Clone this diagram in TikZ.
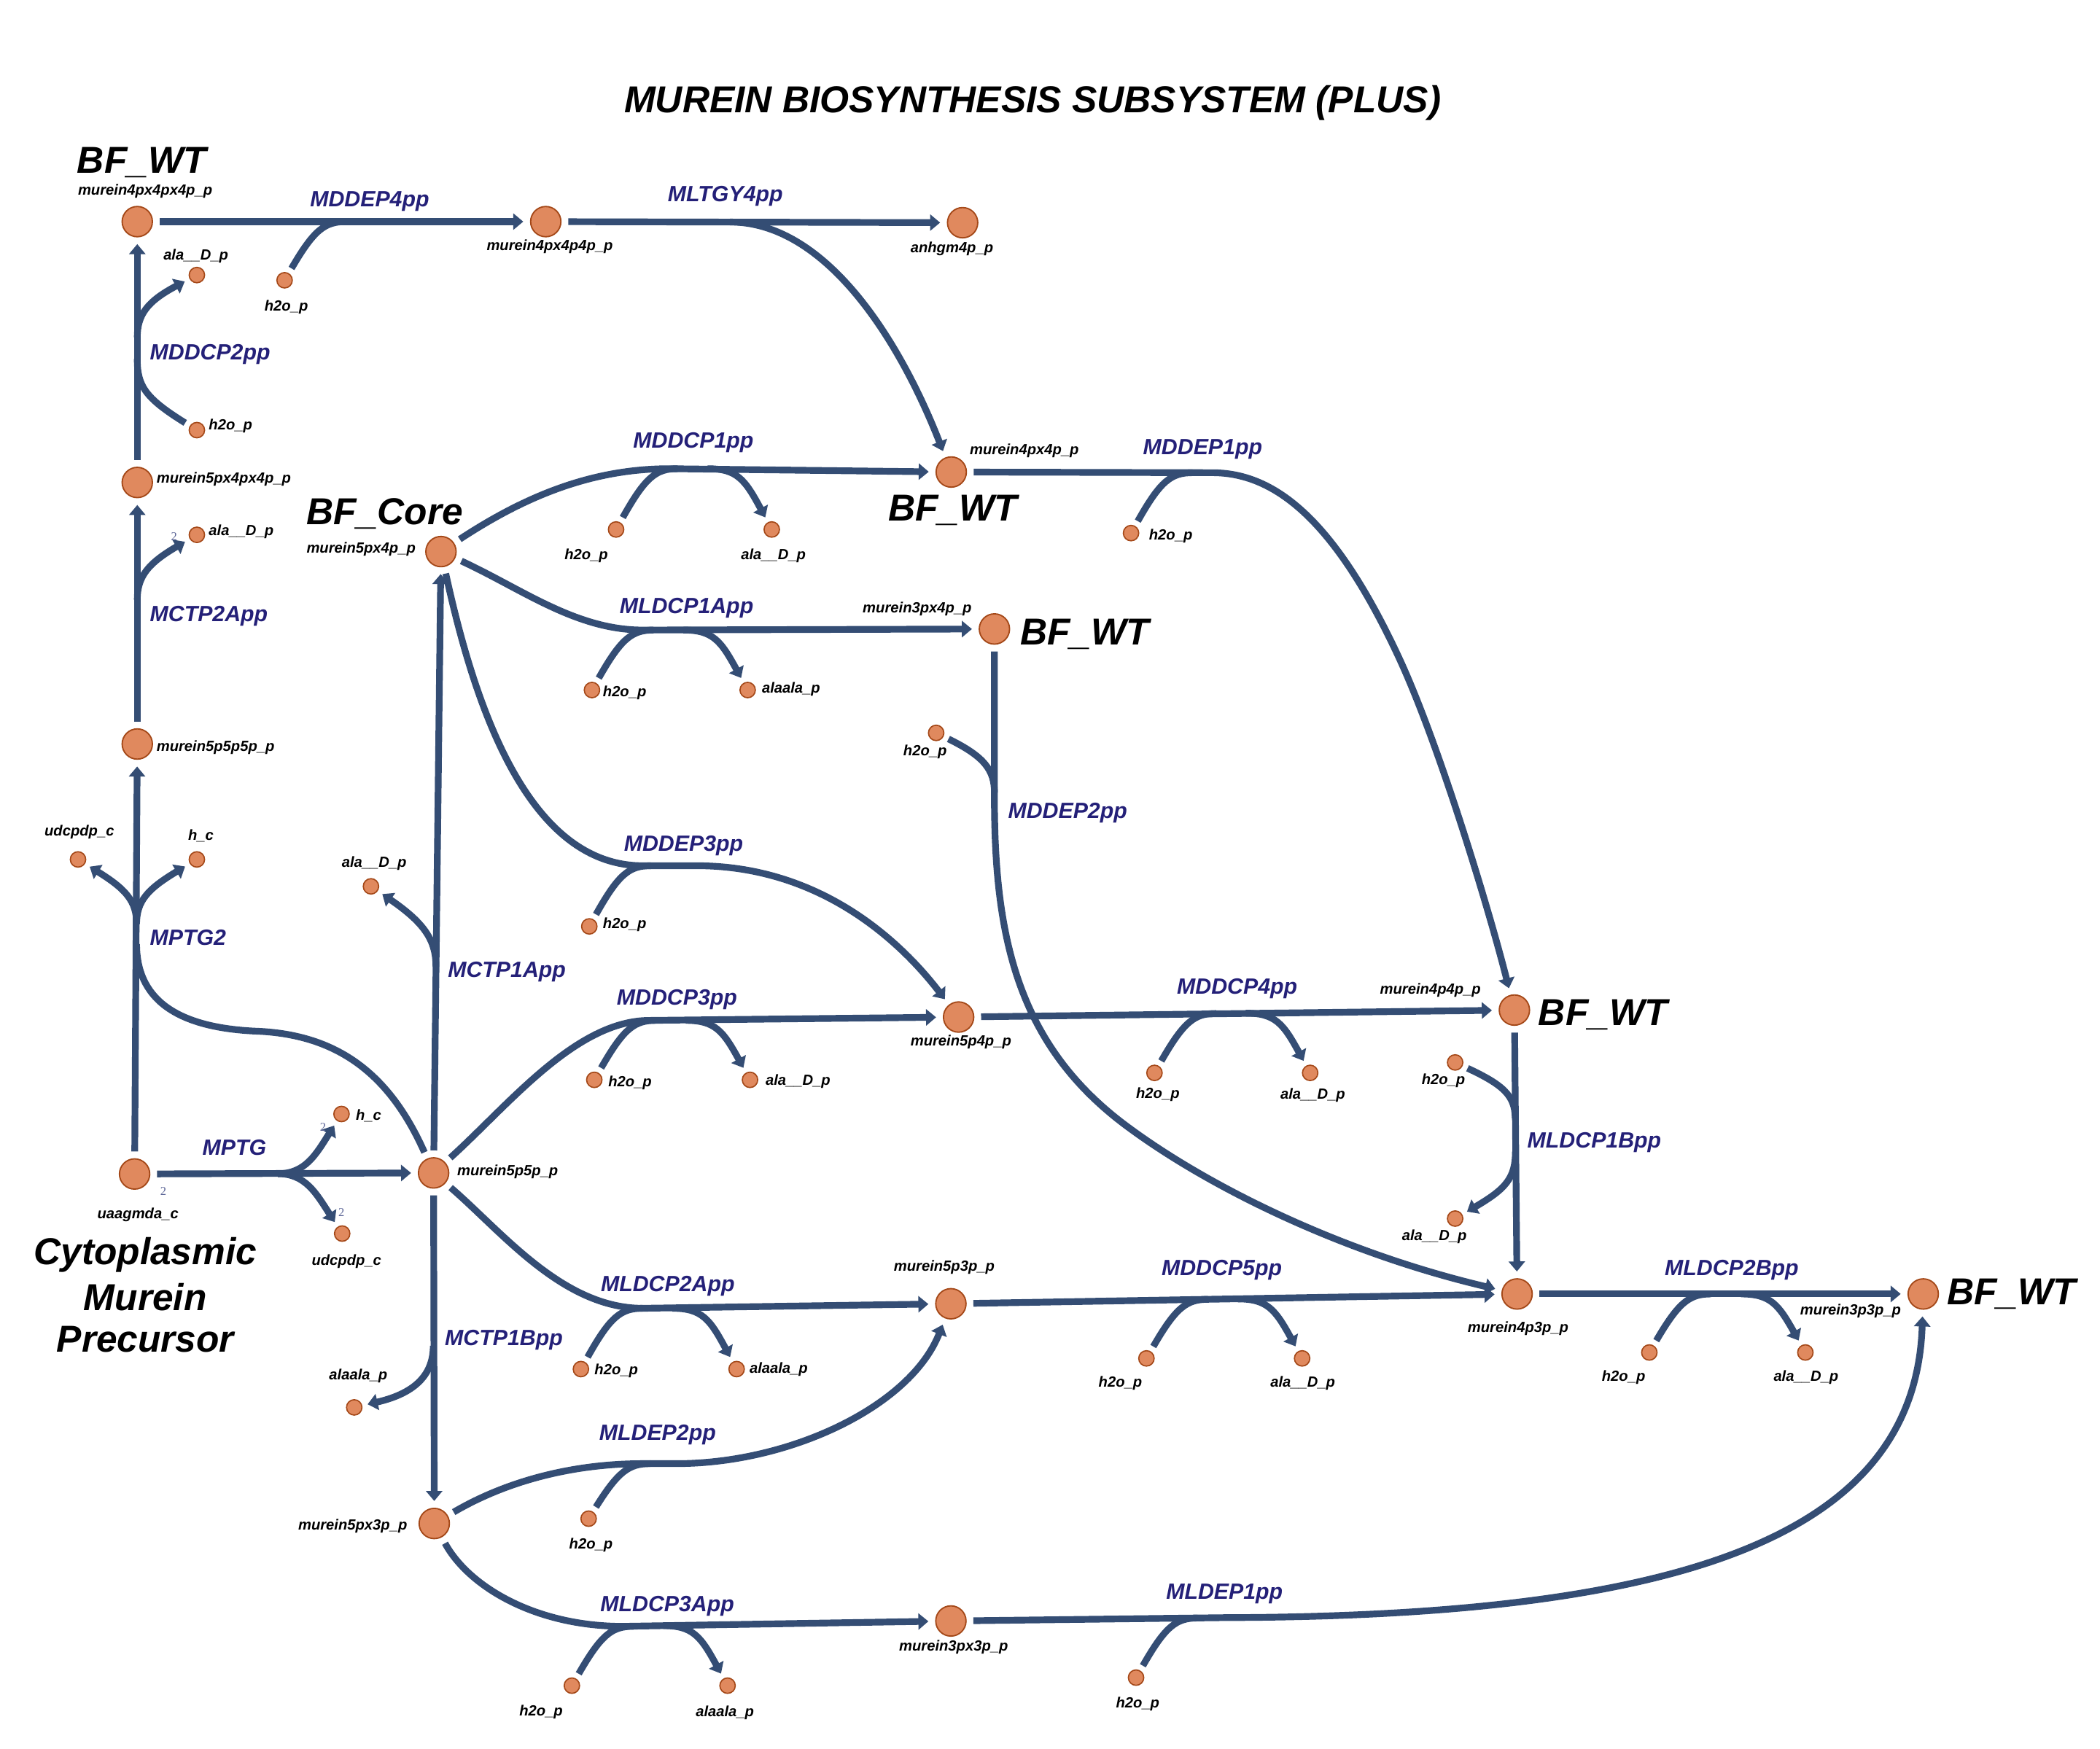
\documentclass[tikz,border=0pt]{standalone}
\usepackage{fontspec}
\setmainfont{Liberation Sans}
\newfontfamily\stfont{Liberation Serif}
\usetikzlibrary{arrows.meta}
\definecolor{edgec}{RGB}{52,77,116}
\definecolor{metfill}{RGB}{224,137,94}
\definecolor{metdraw}{RGB}{164,72,24}
\definecolor{rxc}{RGB}{36,32,120}
\definecolor{stc}{RGB}{90,100,150}
\begin{document}
\begin{tikzpicture}[x=1pt,y=-1pt,
 met/.style={circle,fill=metfill,draw=metdraw,line width=1pt,minimum size=22.6pt,inner sep=0pt,outer sep=5.5pt},
 smet/.style={circle,fill=metfill,draw=metdraw,line width=0.9pt,minimum size=11.5pt,inner sep=0pt,outer sep=4.5pt},
 rx/.style={draw=edgec,line width=5pt},
 arr/.style={-{Triangle[length=7.5pt,width=12pt]}},
 mlab/.style={inner sep=0pt,font=\bfseries\itshape\fontsize{11}{13}\selectfont},
 rlab/.style={inner sep=0pt,text=rxc,font=\bfseries\itshape\fontsize{16.5}{19}\selectfont},
 bflab/.style={inner sep=0pt,font=\bfseries\itshape\fontsize{28}{32}\selectfont},
 stoi/.style={inner sep=0pt,text=stc,font=\stfont\fontsize{9}{10}\selectfont}]
\useasboundingbox (0,0) rectangle (1568,1306);
\fill[white] (0,0) rectangle (1568,1306);

% ---------- metabolites (large)
\node[met] (A) at (102.5,165.5) {};
\node[met] (B) at (407.5,165.5) {};
\node[met] (C) at (718.75,166.3) {};
\node[met] (D) at (102.5,360.3) {};
\node[met] (E) at (329.25,411.9) {};
\node[met] (F) at (710.25,352.5) {};
\node[met] (G) at (742.5,469.7) {};
\node[met] (H) at (102.5,555.6) {};
\node[met] (I) at (715.75,759.5) {};
\node[met] (K) at (1130.75,754.3) {};
\node[met] (U) at (100.5,876.7) {};
\node[met] (M) at (323.75,875.9) {};
\node[met] (N) at (710,973.6) {};
\node[met] (O) at (1132.75,966.3) {};
\node[met] (P) at (1436,966.3) {};
\node[met] (Q) at (324.25,1137.7) {};
\node[met] (R) at (710,1210.5) {};

% ---------- metabolites (small)
\node[smet] (w1) at (212.5,209.3) {};
\node[smet] (w3) at (147,321.2) {};
\node[smet] (a3) at (147,205.4) {};
\node[smet] (a4) at (147,399.4) {};
\node[smet] (w5) at (460,395.4) {};
\node[smet] (a5) at (576.25,395.4) {};
\node[smet] (w6) at (442,515.3) {};
\node[smet] (a6) at (558.25,515.3) {};
\node[smet] (w7) at (440,691.8) {};
\node[smet] (w8) at (844.5,398.1) {};
\node[smet] (w9) at (699,547.3) {};
\node[smet] (u10) at (58.25,641.8) {};
\node[smet] (h10) at (147,641.8) {};
\node[smet] (a11) at (277,661.9) {};
\node[smet] (h12) at (255,831.9) {};
\node[smet] (u12) at (255.5,921.2) {};
\node[smet] (w13) at (443.75,806.4) {};
\node[smet] (a13) at (560,806.4) {};
\node[smet] (w14) at (862,801.2) {};
\node[smet] (a14) at (978.25,801.2) {};
\node[smet] (w15) at (1086.5,793.4) {};
\node[smet] (a15) at (1086.5,910) {};
\node[smet] (w16) at (433.75,1022.4) {};
\node[smet] (a16) at (550,1022.4) {};
\node[smet] (w17) at (439.5,1134.1) {};
\node[smet] (w18) at (427,1258.8) {};
\node[smet] (a18) at (543.25,1258.8) {};
\node[smet] (w19) at (856,1014.4) {};
\node[smet] (a19) at (972.25,1014.4) {};
\node[smet] (w20) at (1231.5,1010) {};
\node[smet] (a20) at (1348,1010) {};
\node[smet] (w21) at (848.25,1252.8) {};
\node[smet] (a22) at (264.5,1051) {};

% ---------- junction coordinates
\coordinate (j1) at (258.5,165.5);
\coordinate (j2) at (545,165.8);
\coordinate (j3) at (102.5,268);
\coordinate (j3b) at (102.5,252);
\coordinate (j4) at (102.5,448);
\coordinate (k5) at (500,350);
\coordinate (j5) at (506,350);
\coordinate (j5b) at (528.25,350);
\coordinate (k6) at (480,470.5);
\coordinate (j6) at (488,470.5);
\coordinate (j6b) at (510.25,470.5);
\coordinate (k7a) at (480,646.5);
\coordinate (k7b) at (520,646.5);
\coordinate (j7) at (486,646.5);
\coordinate (k8a) at (905,353);
\coordinate (k8b) at (1044,490);
\coordinate (j8) at (890.5,353);
\coordinate (k9a) at (742.5,600);
\coordinate (k9b) at (840,840);
\coordinate (j9) at (742.5,592);
\coordinate (k10) at (190,770);
\coordinate (j10) at (102,705);
\coordinate (j10b) at (102,690);
\coordinate (j11) at (325.5,722);
\coordinate (j12) at (207.5,876.5);
\coordinate (k13) at (485,762);
\coordinate (j13) at (489.75,762);
\coordinate (j13b) at (512,762);
\coordinate (j14) at (908,756.8);
\coordinate (j14b) at (930.25,756.6);
\coordinate (j15) at (1131.3,835);
\coordinate (j15b) at (1131.5,860);
\coordinate (k16) at (480,977);
\coordinate (j16) at (479.75,977);
\coordinate (j16b) at (502,977);
\coordinate (k17a) at (480,1093);
\coordinate (k17b) at (505,1093);
\coordinate (j17) at (485.5,1093);
\coordinate (k18) at (465,1214.5);
\coordinate (j18) at (473,1214.5);
\coordinate (j18b) at (495.25,1214);
\coordinate (j19) at (902,970.3);
\coordinate (j19b) at (924.25,970);
\coordinate (j20) at (1277.5,966.3);
\coordinate (j20b) at (1300,966.3);
\coordinate (k21) at (915,1208);
\coordinate (j21) at (894.25,1208.3);
\coordinate (j22) at (323.5,1005);

% ---------- reactions
% MDDEP4pp
\draw[rx,arr] (A) -- (B);
\draw[rx] (w1) .. controls (234.5,171.5) and (242.5,165.5) .. (j1);
% MLTGY4pp
\draw[rx,arr] (B) -- (C);
\draw[rx,arr] (j2) .. controls (615,165.8) and (670,250) .. (F);
% MDDCP2pp
\draw[rx,arr] (D) -- (A);
\draw[rx] (w3) .. controls (108,297) and (102.5,288) .. (j3);
\draw[rx,arr] (j3b) .. controls (102.5,235) and (110,225) .. (a3);
% MCTP2App
\draw[rx,arr] (H) -- (D);
\draw[rx,arr] (j4) .. controls (102.5,431) and (110,421) .. (a4);
% MDDCP1pp
\draw[rx,arr] (E) .. controls (390,372) and (440,350) .. (k5) -- (F);
\draw[rx] (w5) .. controls (482,356) and (490,350) .. (j5);
\draw[rx,arr] (j5b) .. controls (550.25,350) and (556.25,358) .. (a5);
% MLDCP1App
\draw[rx,arr] (E) .. controls (390,440) and (430,470.5) .. (k6) -- (G);
\draw[rx] (w6) .. controls (464,476.5) and (472,470.5) .. (j6);
\draw[rx,arr] (j6b) .. controls (532.25,470.5) and (538.25,478.5) .. (a6);
% MDDEP3pp
\draw[rx,arr] (E) .. controls (355,530) and (395,646.5) .. (k7a) -- (k7b) .. controls (610,646.5) and (670,700) .. (I);
\draw[rx] (w7) .. controls (462,652.5) and (470,646.5) .. (j7);
% MDDEP1pp
\draw[rx,arr] (F) -- (k8a) .. controls (950,353) and (995,385) .. (k8b) .. controls (1074,554) and (1112,680) .. (K);
\draw[rx] (w8) .. controls (866.5,359) and (874.5,353) .. (j8);
% MDDEP2pp
\draw[rx,arr] (G) -- (k9a) .. controls (743,700) and (760,780) .. (k9b) .. controls (900,885) and (1000,935) .. (O);
\draw[rx] (w9) .. controls (735,565) and (742.5,575) .. (j9);
% MPTG2
\draw[rx,arr] (U) -- (H);
\draw[rx] (M) .. controls (290,800) and (250,772) .. (k10) .. controls (130,767) and (102,745) .. (j10);
\draw[rx,arr] (j10b) .. controls (102,673) and (94,664) .. (u10);
\draw[rx,arr] (j10b) .. controls (102,673) and (110,664) .. (h10);
% MCTP1App
\draw[rx,arr] (M) -- (E);
\draw[rx,arr] (j11) .. controls (325.5,703) and (318,690) .. (a11);
% MPTG
\draw[rx,arr] (U) -- (M);
\draw[rx,arr] (j12) .. controls (228,876.5) and (236,862) .. (h12);
\draw[rx,arr] (j12) .. controls (228,876.5) and (236,891) .. (u12);
% MDDCP3pp
\draw[rx,arr] (M) .. controls (380,825) and (430,762) .. (k13) -- (I);
\draw[rx] (w13) .. controls (465.75,768) and (473.75,762) .. (j13);
\draw[rx,arr] (j13b) .. controls (534,762) and (540,770) .. (a13);
% MDDCP4pp
\draw[rx,arr] (I) -- (K);
\draw[rx] (w14) .. controls (884,762.8) and (892,756.8) .. (j14);
\draw[rx,arr] (j14b) .. controls (952.25,756.6) and (958.25,764.6) .. (a14);
% MLDCP1Bpp
\draw[rx,arr] (K) -- (O);
\draw[rx] (w15) .. controls (1122,810) and (1131.3,818) .. (j15);
\draw[rx,arr] (j15b) .. controls (1131.5,880) and (1124,888) .. (a15);
% MLDCP2App
\draw[rx,arr] (M) .. controls (375,920) and (420,977) .. (k16) -- (N);
\draw[rx] (w16) .. controls (455.75,983) and (463.75,977) .. (j16);
\draw[rx,arr] (j16b) .. controls (524,977) and (530,985) .. (a16);
% MLDEP2pp
\draw[rx,arr] (Q) .. controls (380,1105) and (430,1093) .. (k17a) -- (k17b) .. controls (590,1093) and (680,1050) .. (N);
\draw[rx] (w17) .. controls (461.5,1099) and (469.5,1093) .. (j17);
% MLDCP3App
\draw[rx,arr] (Q) .. controls (350,1185) and (400,1214.5) .. (k18) -- (R);
\draw[rx] (w18) .. controls (449,1220.5) and (457,1214.5) .. (j18);
\draw[rx,arr] (j18b) .. controls (517.25,1214) and (523.25,1222) .. (a18);
% MDDCP5pp
\draw[rx,arr] (N) -- (O);
\draw[rx] (w19) .. controls (878,976.3) and (886,970.3) .. (j19);
\draw[rx,arr] (j19b) .. controls (946.25,970) and (952.25,978) .. (a19);
% MLDCP2Bpp
\draw[rx,arr] (O) -- (P);
\draw[rx] (w20) .. controls (1253.5,972.3) and (1261.5,966.3) .. (j20);
\draw[rx,arr] (j20b) .. controls (1322,966.3) and (1328,974.3) .. (a20);
% MLDEP1pp
\draw[rx,arr] (R) -- (k21) .. controls (1250,1207) and (1430,1150) .. (P);
\draw[rx] (w21) .. controls (870.25,1214.3) and (878.25,1208.3) .. (j21);
% MCTP1Bpp
\draw[rx,arr] (M) -- (Q);
\draw[rx,arr] (j22) .. controls (323.5,1025) and (312,1040) .. (a22);

% ---------- metabolite labels
\node[mlab,anchor=base] (lA) at (108.4,145.5) {murein4px4px4p\_p};
\node[mlab,anchor=base] (la3) at (146.25,194.2) {ala\_\_D\_p};
\node[mlab,anchor=base] (lw1) at (213.75,232.2) {h2o\_p};
\node[mlab,anchor=base west] (lw3) at (155.75,321.2) {h2o\_p};
\node[mlab,anchor=base west] (lD) at (116.75,360.8) {murein5px4px4p\_p};
\node[mlab,anchor=base west] (la4) at (155.75,399.9) {ala\_\_D\_p};
\node[mlab,anchor=base west] (lE) at (228.75,412.9) {murein5px4p\_p};
\node[mlab,anchor=base] (lB) at (410.5,187.1) {murein4px4p4p\_p};
\node[mlab,anchor=base] (lC) at (710.75,188.4) {anhgm4p\_p};
\node[mlab,anchor=base west] (lF) at (724,339.5) {murein4px4p\_p};
\node[mlab,anchor=base] (lw5) at (437.75,417.6) {h2o\_p};
\node[mlab,anchor=base] (la5) at (577.5,417.6) {ala\_\_D\_p};
\node[mlab,anchor=base west] (lG) at (644,457.4) {murein3px4p\_p};
\node[mlab,anchor=base west] (lw8) at (857.75,403.3) {h2o\_p};
\node[mlab,anchor=base west] (lw6) at (450,520) {h2o\_p};
\node[mlab,anchor=base west] (la6) at (568.75,517.3) {alaala\_p};
\node[mlab,anchor=base] (lw9) at (690.75,564.2) {h2o\_p};
\node[mlab,anchor=base west] (lH) at (116.75,560.8) {murein5p5p5p\_p};
\node[mlab,anchor=base] (lu10) at (59.25,624.1) {udcpdp\_c};
\node[mlab,anchor=base] (lh10) at (150,627.2) {h\_c};
\node[mlab,anchor=base] (la11) at (279.4,647.5) {ala\_\_D\_p};
\node[mlab,anchor=base west] (lw7) at (450,693.1) {h2o\_p};
\node[mlab,anchor=base] (lI) at (717.5,781.1) {murein5p4p\_p};
\node[mlab,anchor=base west] (lw13) at (454,811.6) {h2o\_p};
\node[mlab,anchor=base west] (la13) at (571.5,810.3) {ala\_\_D\_p};
\node[mlab,anchor=base west] (lK) at (1030.25,742.6) {murein4p4p\_p};
\node[mlab,anchor=base] (lw14) at (864.5,820.2) {h2o\_p};
\node[mlab,anchor=base] (la14) at (980.25,820.7) {ala\_\_D\_p};
\node[mlab,anchor=base] (lw15) at (1077.75,809.8) {h2o\_p};
\node[mlab,anchor=base] (la15) at (1071,926.3) {ala\_\_D\_p};
\node[mlab,anchor=base] (lU) at (103,910) {uaagmda\_c};
\node[mlab,anchor=base west] (lh12) at (265.5,836.3) {h\_c};
\node[mlab,anchor=base] (lu12) at (258.75,945) {udcpdp\_c};
\node[mlab,anchor=base west] (lM) at (341.25,878) {murein5p5p\_p};
\node[mlab,anchor=base] (la22) at (267.5,1030.2) {alaala\_p};
\node[mlab,anchor=base west] (lQ) at (222.5,1142.4) {murein5px3p\_p};
\node[mlab,anchor=base] (lN) at (705,949) {murein5p3p\_p};
\node[mlab,anchor=base west] (lw16) at (443.75,1026.3) {h2o\_p};
\node[mlab,anchor=base west] (la16) at (559.5,1025.6) {alaala\_p};
\node[mlab,anchor=base] (lw17) at (441.25,1156.7) {h2o\_p};
\node[mlab,anchor=base] (lR) at (712,1232.8) {murein3px3p\_p};
\node[mlab,anchor=base] (lw18) at (404,1281.4) {h2o\_p};
\node[mlab,anchor=base] (la18) at (541.25,1281.9) {alaala\_p};
\node[mlab,anchor=base] (lO) at (1133.5,994.9) {murein4p3p\_p};
\node[mlab,anchor=base] (lw19) at (836.5,1036) {h2o\_p};
\node[mlab,anchor=base] (la19) at (972.75,1036) {ala\_\_D\_p};
\node[mlab,anchor=base] (lw21) at (849.5,1275.4) {h2o\_p};
\node[mlab,anchor=base west] (lP) at (1344,981.9) {murein3p3p\_p};
\node[mlab,anchor=base] (lw20) at (1212.25,1031.3) {h2o\_p};
\node[mlab,anchor=base] (la20) at (1348.5,1031.3) {ala\_\_D\_p};

% ---------- stoichiometry
\node[stoi] (s1) at (130,400.6) {2};
\node[stoi] (s2) at (122,889.7) {2};
\node[stoi] (s3) at (241.25,841.5) {2};
\node[stoi] (s4) at (255,905.6) {2};

% ---------- reaction labels
\node[rlab,anchor=base] (r1) at (276,154.1) {MDDEP4pp};
\node[rlab,anchor=base] (r2) at (541.6,150.7) {MLTGY4pp};
\node[rlab,anchor=base west] (r3) at (111.75,268.6) {MDDCP2pp};
\node[rlab,anchor=base west] (r4) at (111.75,464) {MCTP2App};
\node[rlab,anchor=base] (r5) at (517.75,334.8) {MDDCP1pp};
\node[rlab,anchor=base] (r8) at (898,339.5) {MDDEP1pp};
\node[rlab,anchor=base] (r6) at (512.6,458) {MLDCP1App};
\node[rlab,anchor=base west] (r9) at (752.5,611.1) {MDDEP2pp};
\node[rlab,anchor=base] (r7) at (510.4,635.8) {MDDEP3pp};
\node[rlab,anchor=base west] (r10) at (111.75,705.6) {MPTG2};
\node[rlab,anchor=base west] (r11) at (334.25,729.6) {MCTP1App};
\node[rlab,anchor=base] (r13) at (505.5,750.4) {MDDCP3pp};
\node[rlab,anchor=base] (r14) at (923.75,742.1) {MDDCP4pp};
\node[rlab,anchor=base west] (r15) at (1140.25,857.2) {MLDCP1Bpp};
\node[rlab,anchor=base] (r12) at (175,862.9) {MPTG};
\node[rlab,anchor=base] (r16) at (498.6,964.5) {MLDCP2App};
\node[rlab,anchor=base] (r19) at (912.25,952.3) {MDDCP5pp};
\node[rlab,anchor=base] (r20) at (1293,952.3) {MLDCP2Bpp};
\node[rlab,anchor=base west] (r22) at (332,1004.8) {MCTP1Bpp};
\node[rlab,anchor=base] (r17) at (491,1075.7) {MLDEP2pp};
\node[rlab,anchor=base] (r18) at (498.25,1203.5) {MLDCP3App};
\node[rlab,anchor=base] (r21) at (914.25,1194.4) {MLDEP1pp};

% ---------- big labels
\node[bflab,anchor=base] (title) at (771,84) {MUREIN BIOSYNTHESIS SUBSYSTEM (PLUS)};
\node[bflab,anchor=base west] (bf1) at (57.5,129.3) {BF\_WT};
\node[bflab,anchor=base west] (bfc) at (228.75,391.6) {BF\_Core};
\node[bflab,anchor=base] (bf2) at (711.5,389) {BF\_WT};
\node[bflab,anchor=base west] (bf3) at (761.5,481.4) {BF\_WT};
\node[bflab,anchor=base west] (bf4) at (1148.5,765.5) {BF\_WT};
\node[bflab,anchor=base west] (bf5) at (1453.5,974.1) {BF\_WT};
\node[bflab,anchor=base] (cy1) at (108.5,944.5) {Cytoplasmic};
\node[bflab,anchor=base] (cy2) at (108.5,978.8) {Murein};
\node[bflab,anchor=base] (cy3) at (108.5,1009.5) {Precursor};
\end{tikzpicture}
\end{document}
